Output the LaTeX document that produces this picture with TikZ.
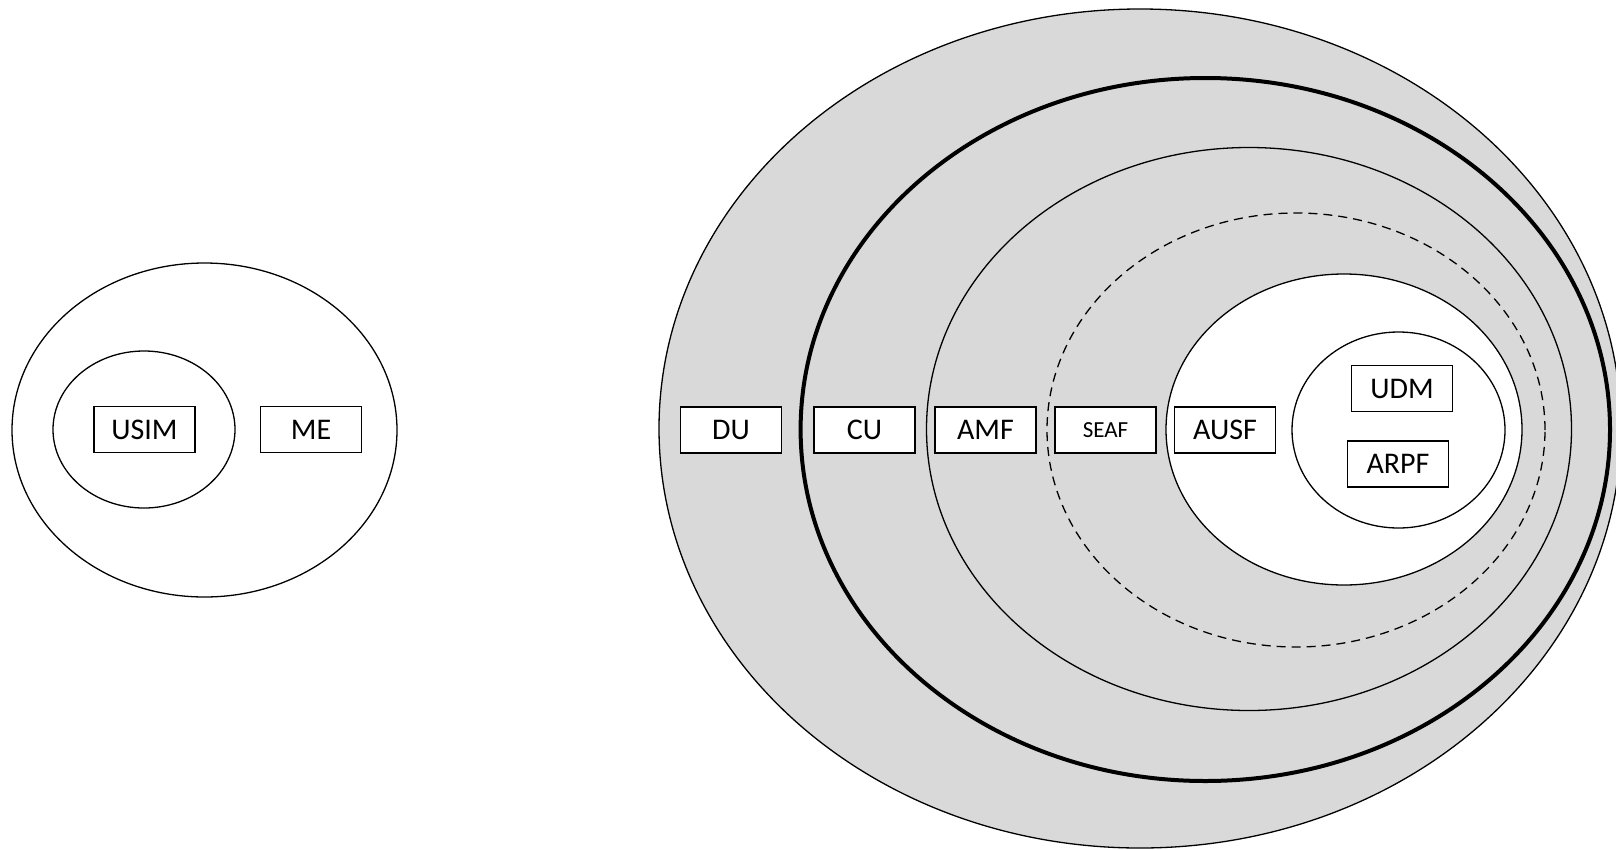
\documentclass[tikz,border=0pt]{standalone}
\usepackage{fontspec}
\setmainfont{Carlito}
\definecolor{shade}{HTML}{D9D9D9}
\begin{document}
\begin{tikzpicture}[x=1pt,y=-1pt,
  ring/.style={draw=black,line width=1.3pt},
  thickring/.style={draw=black,line width=4pt},
  dashring/.style={draw=black,line width=1.3pt,dash pattern=on 9pt off 6pt},
  nfbox/.style={draw=black,fill=white,line width=1.3pt,rectangle,minimum width=101pt,minimum height=46pt,inner sep=0pt,font=\fontsize{30}{36}\selectfont},
  smallbox/.style={nfbox,font=\fontsize{23}{28}\selectfont}]
\useasboundingbox (0,0) rectangle (1616,849);
\clip (0,0) rectangle (1616,849);
% UE side
\draw[ring] (204.5,430) ellipse [x radius=192.5pt, y radius=167pt];
\draw[ring] (144,429.5) ellipse [x radius=91pt, y radius=78.5pt];
\node[nfbox] (usim) at (144.5,429.5) {USIM};
\node[nfbox] (me) at (311,429.5) {ME};
% network side
\draw[ring,fill=shade] (1140,428.5) ellipse [x radius=481pt, y radius=419.5pt];
\draw[thickring] (1205.3,429.5) ellipse [x radius=404.7pt, y radius=351.5pt];
\draw[ring] (1249,429) ellipse [x radius=322.5pt, y radius=281.5pt];
\draw[dashring] (1296,430) ellipse [x radius=249pt, y radius=217pt];
\draw[ring,fill=white] (1344,429.5) ellipse [x radius=178pt, y radius=155.5pt];
\draw[ring] (1398.5,430) ellipse [x radius=106.5pt, y radius=98pt];
\node[nfbox] (du) at (731,430) {DU};
\node[nfbox] (cu) at (864.5,430) {CU};
\node[nfbox] (amf) at (985.5,430) {AMF};
\node[smallbox] (seaf) at (1105.5,430) {SEAF};
\node[nfbox] (ausf) at (1225,430) {AUSF};
\node[nfbox] (udm) at (1402,388.5) {UDM};
\node[nfbox] (arpf) at (1398,464) {ARPF};
\end{tikzpicture}
\end{document}
